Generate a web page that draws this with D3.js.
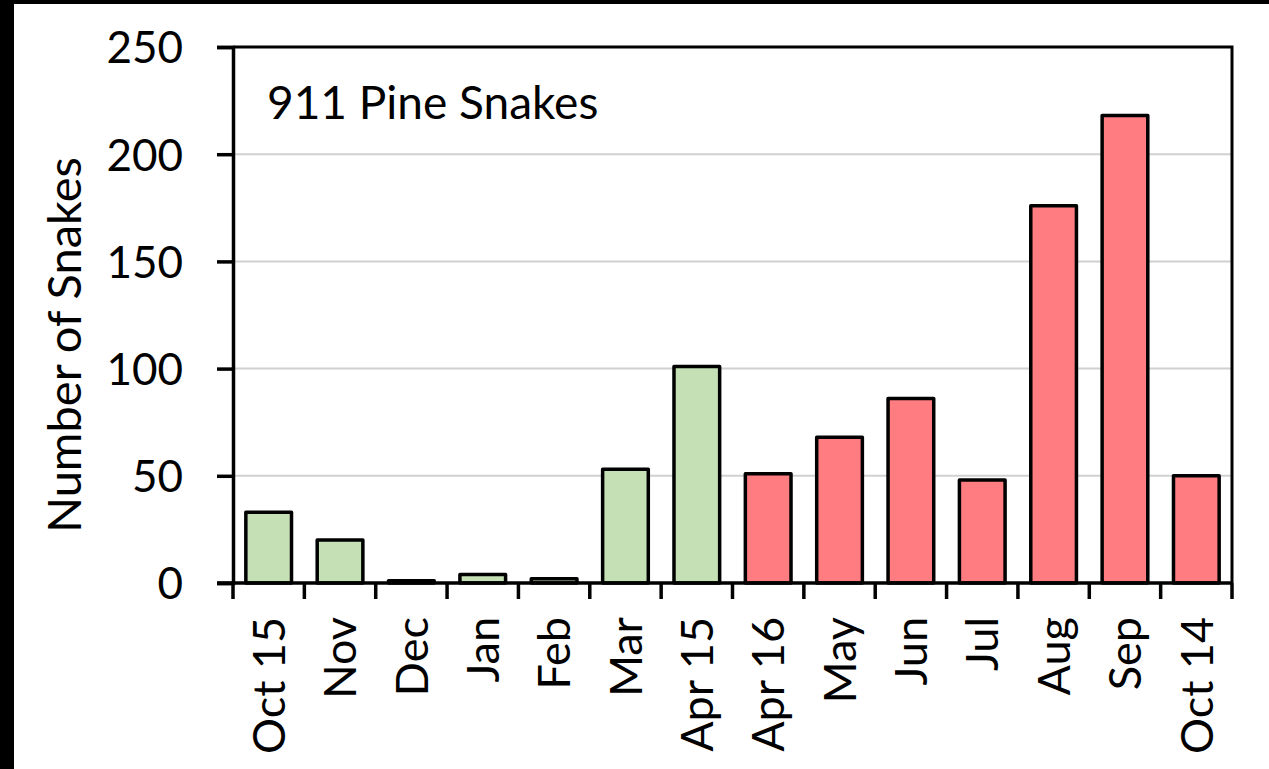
<!DOCTYPE html>
<html>
<head>
<meta charset="utf-8">
<script src="https://cdn.jsdelivr.net/npm/d3@7"></script>
<style>
  html, body { margin: 0; padding: 0; background: #000; }
  svg { display: block; }
  text { font-family: Lato, "Open Sans", sans-serif; fill: #000; }
</style>
</head>
<body>
<svg id="chart" width="1269" height="769"></svg>
<script>
  // data
  var months = ["Oct 15", "Nov", "Dec", "Jan", "Feb", "Mar", "Apr 15",
                "Apr 16", "May", "Jun", "Jul", "Aug", "Sep", "Oct 14"];
  var counts = [33, 20, 1, 4, 2, 53, 101, 51, 68, 86, 48, 176, 218, 50];
  var season = ["w", "w", "w", "w", "w", "w", "w",
                "s", "s", "s", "s", "s", "s", "s"];
  var yTicks = [0, 50, 100, 150, 200, 250];

  var colors = { w: "#C5E0B4", s: "#FF7C80" };

  var margin = {top: 47, right: 37, bottom: 186, left: 233},
      W = 1269, H = 769,
      width = W - margin.left - margin.right,
      height = H - margin.top - margin.bottom;

  var svg = d3.select("#chart");

  // white card inside the black frame
  svg.append("rect")
      .attr("x", 14).attr("y", 4)
      .attr("width", W - 14).attr("height", H - 4)
      .attr("fill", "#fff");

  var g = svg.append("g")
      .attr("transform", "translate(" + margin.left + "," + margin.top + ")");

  var x = d3.scaleBand()
      .domain(months)
      .range([0, width])
      .paddingInner(0.36)
      .paddingOuter(0.18);

  var y = d3.scaleLinear()
      .domain([0, 250])
      .range([height, 0]);

  // gridlines
  g.selectAll(".grid")
      .data(yTicks.filter(function(d) { return d > 0 && d < 250; }))
    .enter().append("line")
      .attr("class", "grid")
      .attr("x1", 0).attr("x2", width)
      .attr("y1", function(d) { return y(d); })
      .attr("y2", function(d) { return y(d); })
      .attr("stroke", "#D0D0D0")
      .attr("stroke-width", 2);

  // bars
  g.selectAll(".bar")
      .data(counts)
    .enter().append("rect")
      .attr("class", "bar")
      .attr("x", function(d, i) { return x(months[i]); })
      .attr("y", function(d) { return y(d); })
      .attr("width", x.bandwidth())
      .attr("height", function(d) { return height - y(d); })
      .attr("fill", function(d, i) { return colors[season[i]]; })
      .attr("stroke", "#000")
      .attr("stroke-width", 3.5)
      .attr("stroke-linejoin", "round");

  // frame top and right
  g.append("path")
      .attr("d", "M0,0H" + width + "V" + height)
      .attr("fill", "none")
      .attr("stroke", "#000")
      .attr("stroke-width", 3);

  // y axis
  var yAxis = g.append("g")
      .call(d3.axisLeft(y).tickValues(yTicks).tickSize(16).tickPadding(34));
  yAxis.select(".domain").attr("stroke-width", 3.5);
  yAxis.selectAll(".tick line").attr("stroke-width", 3.5);
  yAxis.selectAll("text")
      .style("font-size", "44px")
      .attr("dy", "0.36em");

  // x axis: ticks at category boundaries
  var bounds = d3.range(months.length + 1).map(function(i) { return i * width / months.length; });
  var xAxis = g.append("g")
      .attr("transform", "translate(0," + height + ")");
  xAxis.append("line")
      .attr("x1", -16).attr("x2", width)
      .attr("stroke", "#000").attr("stroke-width", 3.5);
  xAxis.selectAll(".xtick")
      .data(bounds)
    .enter().append("line")
      .attr("x1", function(d) { return d; })
      .attr("x2", function(d) { return d; })
      .attr("y1", 0).attr("y2", 16)
      .attr("stroke", "#000").attr("stroke-width", 3.5);
  xAxis.selectAll(".xlab")
      .data(months)
    .enter().append("text")
      .attr("transform", function(d) {
        return "translate(" + (x(d) + x.bandwidth() / 2) + ",34) rotate(-90)";
      })
      .attr("text-anchor", "end")
      .attr("dy", "0.36em")
      .style("font-size", "45px")
      .text(function(d) { return d; });

  // axis title
  svg.append("text")
      .attr("transform", "translate(64,345) rotate(-90)")
      .attr("text-anchor", "middle")
      .attr("dy", "0.36em")
      .style("font-size", "47px")
      .text("Number of Snakes");

  // annotation
  g.append("text")
      .attr("x", 34).attr("y", 72)
      .style("font-size", "46px")
      .text("911 Pine Snakes");
</script>
</body>
</html>
